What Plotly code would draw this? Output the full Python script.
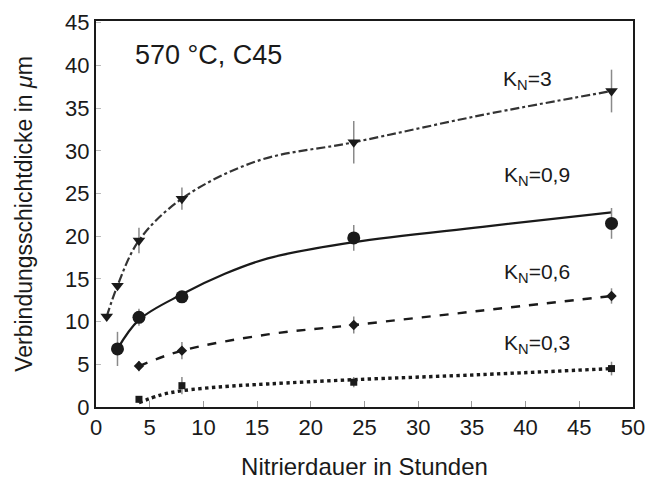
import plotly.graph_objects as go

# Measured data (Nitrierdauer in h, Verbindungsschichtdicke in µm)
x_kn3 = [1, 2, 4, 8, 24, 48]
y_kn3 = [10.6, 14.2, 19.5, 24.4, 31.0, 37.0]
e_kn3 = [0.0, 0.0, 1.5, 1.3, 2.5, 2.5]

x_kn09 = [2, 4, 8, 24, 48]
y_kn09 = [6.8, 10.5, 12.9, 19.8, 21.5]
e_kn09 = [2.0, 1.0, 0.5, 1.5, 1.8]

x_kn06 = [4, 8, 24, 48]
y_kn06 = [4.8, 6.6, 9.6, 13.0]
e_kn06 = [0.6, 1.0, 1.0, 0.9]

x_kn03 = [4, 8, 24, 48]
y_kn03 = [0.9, 2.5, 2.9, 4.5]
e_kn03 = [0.4, 1.0, 0.6, 0.8]

# Fitted curves
xf_kn3 = [1, 2, 4, 8, 15, 24, 36, 48]
yf_kn3 = [10.6, 14.2, 19.5, 24.4, 28.8, 31.0, 34.2, 37.0]
xf_kn09 = [2, 4, 8, 12, 16, 24, 36, 48]
yf_kn09 = [6.8, 10.2, 13.2, 15.6, 17.4, 19.3, 21.1, 22.8]
xf_kn06 = [4, 8, 16, 24, 36, 48]
yf_kn06 = [4.8, 6.6, 8.5, 9.6, 11.3, 13.0]
xf_kn03 = [4, 6, 8, 12, 16, 24, 36, 48]
yf_kn03 = [0.5, 1.4, 1.9, 2.4, 2.7, 3.2, 3.8, 4.5]

x_ticks = [0, 5, 10, 15, 20, 25, 30, 35, 40, 45, 50]
y_ticks = [0, 5, 10, 15, 20, 25, 30, 35, 40, 45]

labels = ["K<sub>N</sub>=3", "K<sub>N</sub>=0,9", "K<sub>N</sub>=0,6", "K<sub>N</sub>=0,3"]
label_pos = [(40.2, 38.3), (41.1, 27.0), (41.1, 15.7), (41.1, 7.4)]

ink = "#1a1a1a"
errc = "#8a8a8a"
font = "Liberation Sans, Arial, sans-serif"

fig = go.Figure()

# lines
fig.add_trace(go.Scatter(x=xf_kn3, y=yf_kn3, mode="lines", line_shape="spline",
                         line=dict(color="#333", width=2.2, dash="dashdot"), hoverinfo="skip"))
fig.add_trace(go.Scatter(x=xf_kn09, y=yf_kn09, mode="lines", line_shape="spline",
                         line=dict(color=ink, width=2.2), hoverinfo="skip"))
fig.add_trace(go.Scatter(x=xf_kn06, y=yf_kn06, mode="lines", line_shape="spline",
                         line=dict(color=ink, width=2.4, dash="dash"), hoverinfo="skip"))
fig.add_trace(go.Scatter(x=xf_kn03, y=yf_kn03, mode="lines", line_shape="spline",
                         line=dict(color=ink, width=3.4, dash="dot"), hoverinfo="skip"))

# markers with error bars
def pts(x, y, e, sym, size):
    fig.add_trace(go.Scatter(
        x=x, y=y, mode="markers",
        marker=dict(symbol=sym, size=size, color=ink),
        error_y=dict(type="data", array=e, visible=True, color=errc, thickness=1.5, width=0),
    ))

pts(x_kn3, y_kn3, e_kn3, "triangle-down", 11)
pts(x_kn09, y_kn09, e_kn09, "circle", 13)
pts(x_kn06, y_kn06, e_kn06, "diamond", 8)
pts(x_kn03, y_kn03, e_kn03, "square", 7)

annotations = [dict(x=10.5, y=41.2, text="570 °C, C45", showarrow=False, xref="x", yref="y",
                    font=dict(family=font, size=27, color=ink))]
for t, (ax, ay) in zip(labels, label_pos):
    annotations.append(dict(x=ax, y=ay, text=t, showarrow=False, xref="x", yref="y",
                            font=dict(family=font, size=21, color=ink)))

fig.update_layout(
    width=646, height=480,
    margin=dict(l=96, r=13, t=21, b=73),
    paper_bgcolor="white", plot_bgcolor="white",
    showlegend=False,
    font=dict(family=font, color=ink),
    annotations=annotations,
)
fig.update_xaxes(
    range=[0, 50], tickvals=x_ticks, ticks="inside", ticklen=6, tickcolor="#999",
    tickfont=dict(size=22, color=ink), showgrid=False, zeroline=False,
    showline=True, linecolor=ink, linewidth=2, mirror=True, automargin=False,
    title=dict(text="Nitrierdauer in Stunden", font=dict(size=24, color=ink), standoff=21),
)
fig.update_yaxes(
    range=[0, 45.2], tickvals=y_ticks, ticks="inside", ticklen=5, tickcolor="#bbb",
    tickfont=dict(size=22, color=ink), showgrid=False, zeroline=False,
    showline=True, linecolor=ink, linewidth=2, mirror=True, automargin=False,
    title=dict(text="Verbindungsschichtdicke in <i>μ</i>m", font=dict(size=23, color=ink), standoff=26),
)

fig.write_html("out.html", config={"displayModeBar": False},
               post_script="document.body.style.margin='0';document.body.style.overflow='hidden';")
